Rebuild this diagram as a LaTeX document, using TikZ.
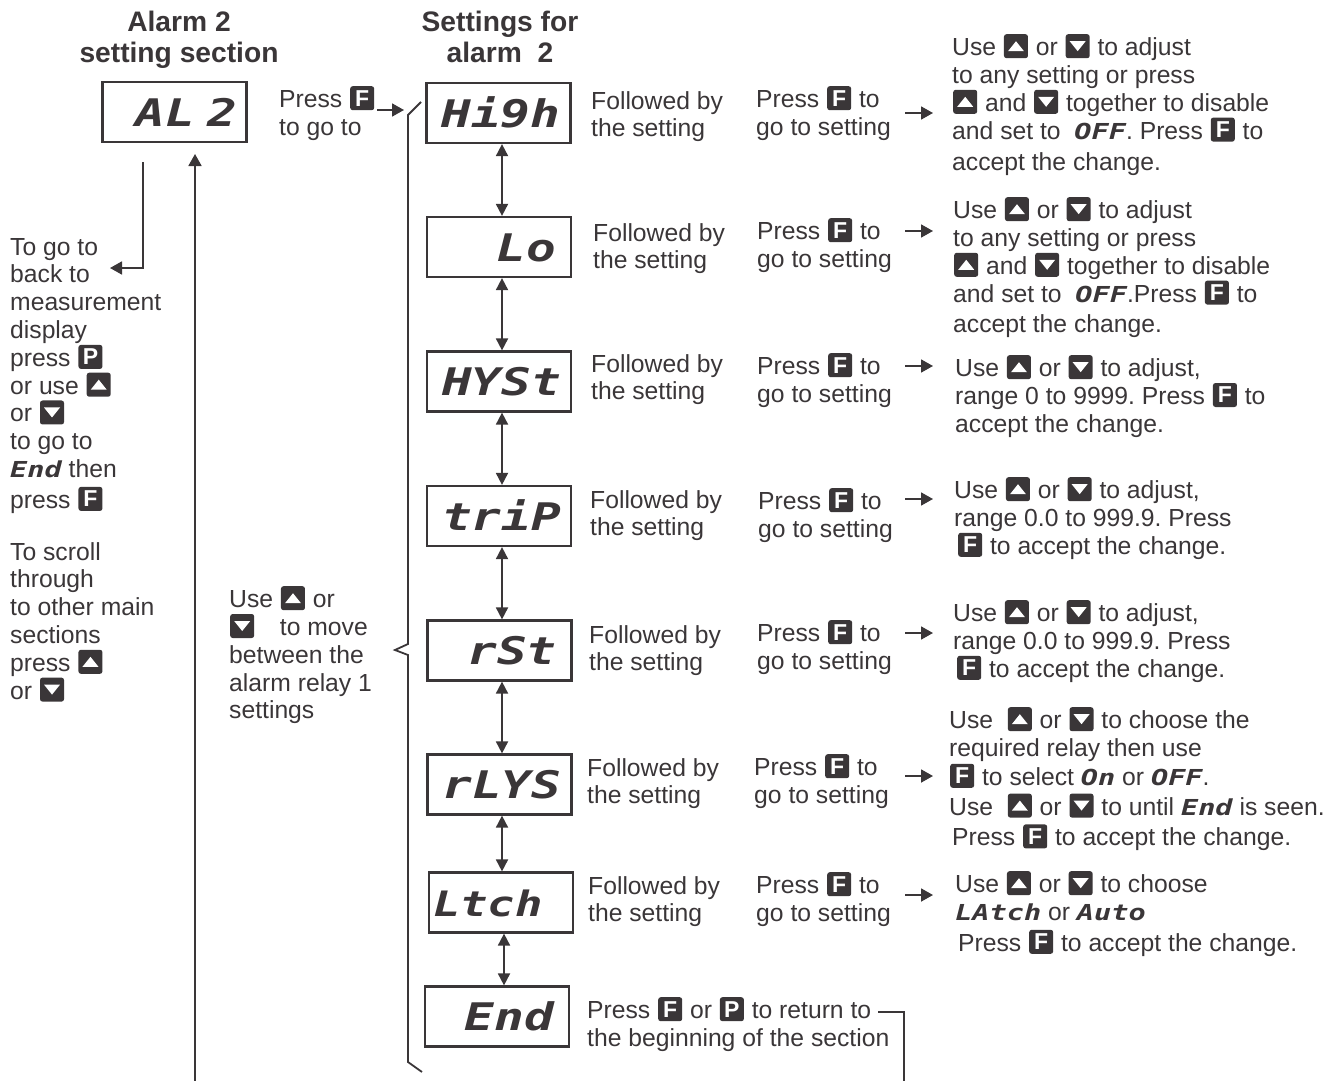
\documentclass[tikz,border=0pt]{standalone}
\usepackage{fontspec}
\usetikzlibrary{arrows.meta}
\setmainfont{Liberation Sans}
\newfontfamily\segfam[FakeStretch=1.3,WordSpace=0.17]{DejaVu Sans Mono}
\definecolor{ink}{RGB}{58,54,56}
\frenchspacing
\newcommand{\segbig}{\segfam\bfseries\itshape\fontsize{38}{38}\selectfont}
\newcommand{\seg}[1]{{\segfam\bfseries\itshape\fontsize{22}{22}\selectfont #1}}
\newcommand{\keyshape}{\path (-1pt,0pt) -- (25pt,0pt);\fill[ink,rounded corners=2.5pt] (0pt,-2.5pt) rectangle (24pt,21.5pt);}
\newsavebox{\boxF}\newsavebox{\boxP}\newsavebox{\boxU}\newsavebox{\boxD}
\sbox{\boxF}{\tikz[baseline=0pt]{\keyshape\node[white,inner sep=0pt,font=\fontsize{23}{23}\selectfont\bfseries] at (12pt,9.5pt) {F};}}
\sbox{\boxP}{\tikz[baseline=0pt]{\keyshape\node[white,inner sep=0pt,font=\fontsize{23}{23}\selectfont\bfseries] at (12pt,9.5pt) {P};}}
\sbox{\boxU}{\tikz[baseline=0pt]{\keyshape\fill[white] (4pt,4.5pt) -- (20pt,4.5pt) -- (12pt,14.5pt) -- cycle;}}
\sbox{\boxD}{\tikz[baseline=0pt]{\keyshape\fill[white] (4pt,14.5pt) -- (20pt,14.5pt) -- (12pt,4.5pt) -- cycle;}}
\newcommand{\keyF}{\usebox{\boxF}}
\newcommand{\keyP}{\usebox{\boxP}}
\newcommand{\keyU}{\usebox{\boxU}}
\newcommand{\keyD}{\usebox{\boxD}}
\tikzset{
txt/.style={anchor=north west,yshift=21pt,inner sep=0pt,align=left,text=ink,
font=\fontsize{24.7}{27.8}\selectfont,execute at begin node={\rule{0pt}{22pt}}},
head/.style={anchor=base,inner sep=0pt,align=center,text=ink,
font=\fontsize{28.2}{31.5}\selectfont\bfseries},
dispbox/.style={draw=ink,line width=2.2pt,minimum width=144pt,minimum height=60pt,inner xsep=15pt,
inner ysep=0pt,text width=114pt,text height=28pt,text depth=0pt,align=right,text=ink,font=\segbig},
line/.style={draw=ink,line width=1.8pt},
tip/.style={line,-{Triangle[length=12pt,width=13pt]}},
updown/.style={line,{Triangle[length=12pt,width=12pt]}-{Triangle[length=12pt,width=12pt]}}
}
\begin{document}
\begin{tikzpicture}[x=1pt,y=-1pt]
\useasboundingbox (0,0) rectangle (1339,1081);
% display boxes
\node[dispbox,inner xsep=9pt,text width=126pt] (al2) at (174.5,112) {AL 2};
\foreach \ten/\cx/\cy/\chu in {high/498.5/113/Hi9h,lo/499/247/Lo,hyst/499/381.5/HYSt,trip/499/516/triP,
rst/499.5/650.5/rSt,rlys/499.5/784.5/rLYS,end/497/1016.5/End}
\node[dispbox] (\ten) at (\cx,\cy) {\chu};
\node[dispbox,align=left,inner xsep=4pt,text width=136pt,font=\segbig\fontsize{35}{35}\selectfont] (ltch) at (501,902.5) {Ltch};
\foreach \a/\b/\x in {high/lo/502,lo/hyst/502,hyst/trip/502,trip/rst/502,rst/rlys/502,rlys/ltch/502,ltch/end/504}
\draw[updown] (\a.south -| \x,0) -- (\b.north -| \x,0);
% headings
\node[head] (title1) at (179,63) {Alarm 2\\setting section};
\node[head] (title2) at (500,63) {Settings for\\alarm~~2};
% left column
\node[txt] (back) at (10,259) {To go to\\back to\\measurement\\display\\press \keyP\\or use \keyU\\or \keyD\\to go to\\\seg{End} then\\[3pt]press \keyF};
\node[txt] (scroll) at (10,563) {To scroll\\through\\to other main\\sections\\press \keyU\\or \keyD};
\node[txt] (move) at (229,607) {Use \keyU\ or\\\keyD\quad to move\\between the\\alarm relay 1\\settings};
\node[txt] (press0) at (279,107) {Press \keyF\\to go to};
% followed by
\foreach \i/\fx/\fy/\px/\py in {1/591/112/756/107,2/593/244/757/239,3/591/375/757/374,4/590/511/758/509,
5/589/646/757/641,6/587/779/754/775,7/588/897/756/893}{
\node[txt] (foll\i) at (\fx,\fy) {Followed by\\the setting};
\node[txt] (press\i) at (\px,\py) {Press \keyF\ to\\go to setting};
}
% right column
\node[txt] (use1) at (952,55) {Use \keyU\ or \keyD\ to adjust\\to any setting or press\\\keyU\ and \keyD\ together to disable\\and set to \ \seg{OFF}. Press \keyF\ to\\[4pt]accept the change.};
\node[txt] (use2) at (953,218) {Use \keyU\ or \keyD\ to adjust\\to any setting or press\\\keyU\ and \keyD\ together to disable\\and set to \ \seg{OFF}.Press \keyF\ to\\[3pt]accept the change.};
\node[txt] (use3) at (955,376) {Use \keyU\ or \keyD\ to adjust,\\range 0 to 9999. Press \keyF\ to\\accept the change.};
\node[txt] (use4) at (954,498) {Use \keyU\ or \keyD\ to adjust,\\range 0.0 to 999.9. Press\\\hspace{3pt}\keyF\ to accept the change.};
\node[txt] (use5) at (953,621) {Use \keyU\ or \keyD\ to adjust,\\range 0.0 to 999.9. Press\\\hspace{3pt}\keyF\ to accept the change.};
\node[txt] (use6) at (949,728) {Use \ \keyU\ or \keyD\ to choose the\\required relay then use\\[1pt]\keyF\ to select \seg{On} or \seg{OFF}.\\[2pt]Use \ \keyU\ or \keyD\ to until \seg{End} is seen.\\[3pt]\hspace{3pt}Press \keyF\ to accept the change.};
\node[txt] (use7) at (955,892) {Use \keyU\ or \keyD\ to choose\\\seg{LAtch} or \seg{Auto}\\[3pt]\hspace{3pt}Press \keyF\ to accept the change.};
\node[txt] (ret) at (587,1018) {Press \keyF\ or \keyP\ to return to\\the beginning of the section};
% connectors
\coordinate (a0) at (377,110);
\coordinate (b0) at (404,110);
\draw[tip] (a0)--(b0);
\foreach \i/\ya in {1/113,2/231,3/366,4/499,5/633,6/776,7/895}{
\coordinate (a\i) at (905,\ya);
\coordinate (b\i) at (933,\ya);
\draw[tip] (a\i)--(b\i);
}
\coordinate (r1) at (143,162);
\coordinate (r2) at (143,268);
\coordinate (r3) at (110,268);
\draw[tip] (r1)--(r2)--(r3);
\coordinate (u1) at (195,1081);
\coordinate (u2) at (195,154);
\draw[tip] (u1)--(u2);
\coordinate (e1) at (878,1012);
\coordinate (e2) at (904,1012);
\coordinate (e3) at (904,1081);
\draw[line] (e1)--(e2)--(e3);
% bracket
\coordinate (s1) at (421,102);
\coordinate (s2) at (408,115);
\coordinate (s3) at (408,644);
\coordinate (s4) at (395,650);
\coordinate (s5) at (408,655);
\coordinate (s6) at (408,1062);
\coordinate (s7) at (422,1072);
\draw[line] (s1)--(s2)--(s3)--(s4)--(s5)--(s6)--(s7);
\end{tikzpicture}
\end{document}
